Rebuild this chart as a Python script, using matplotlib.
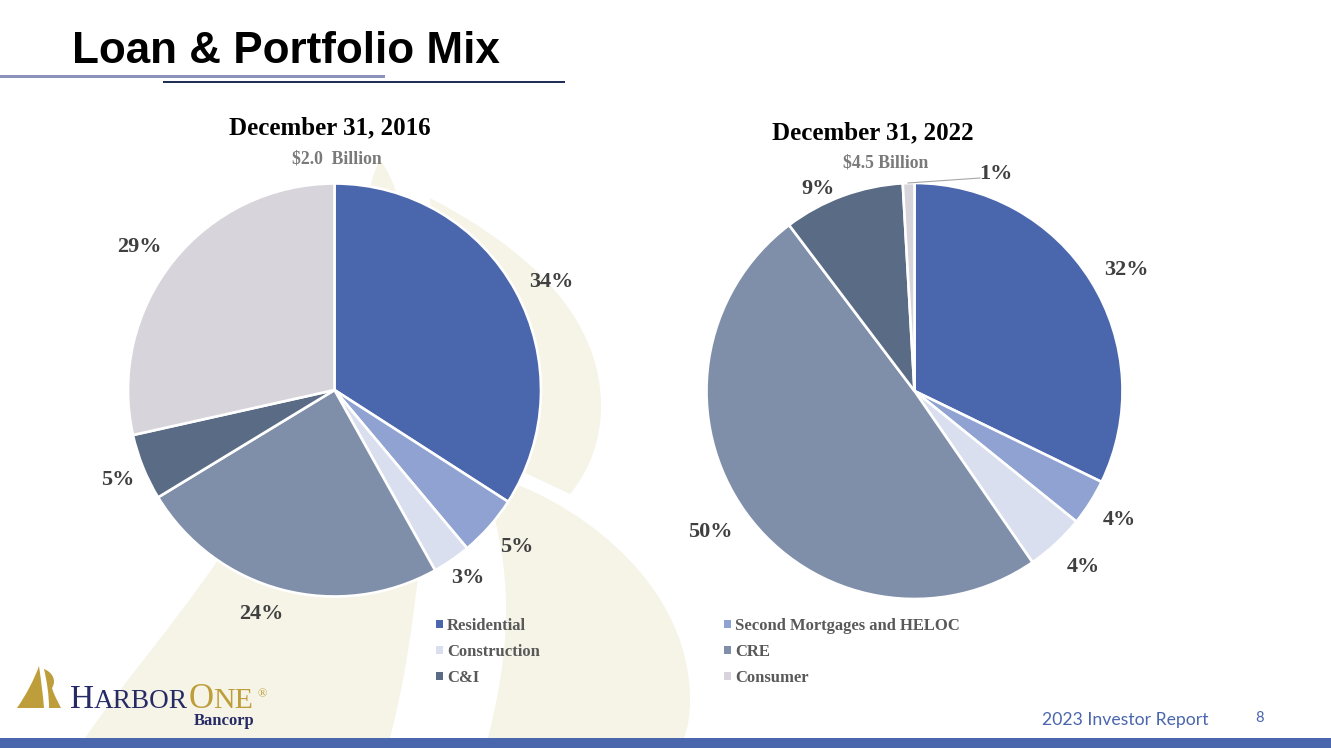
import matplotlib
matplotlib.use('Agg')
import matplotlib.pyplot as plt
from matplotlib.patches import PathPatch, Rectangle
from matplotlib.path import Path

W, H = 1331, 748

# data
categories = ['Residential', 'Second Mortgages and HELOC', 'Construction', 'CRE', 'C&I', 'Consumer']
mix_2016 = [34.1, 4.8, 3.0, 24.4, 5.2, 28.5]
mix_2022 = [32.2, 3.6, 4.6, 49.3, 9.4, 0.9]
labels_2016 = ['34%', '5%', '3%', '24%', '5%', '29%']
labels_2022 = ['32%', '4%', '4%', '50%', '9%', '1%']
colors = ['#4A66AC', '#8FA2D1', '#D9DFEF', '#7F8FA9', '#5A6B86', '#D8D4DC']

# label centres in slide pixels
label_xy_2016 = [(551, 282), (517, 547), (468, 578), (261, 614), (118, 480), (139, 247)]
label_xy_2022 = [(1126, 270), (1119, 520), (1083, 567), (710, 532), (818, 189), (996, 174)]

CREAM = '#F6F3E7'
GOLD = '#BE9E3A'
NAVY = '#262B66'
SERIF = 'Liberation Serif'


def pixel_axes(zorder):
    ax = fig.add_axes([0, 0, 1, 1], zorder=zorder)
    ax.set_xlim(0, W)
    ax.set_ylim(H, 0)
    ax.axis('off')
    ax.patch.set_alpha(0)
    return ax


def shape(ax, start, curves, color):
    # curves are cubic segments: (ctrl1, ctrl2, end)
    verts = [start]
    codes = [Path.MOVETO]
    for seg in curves:
        verts.extend(seg)
        codes.extend([Path.CURVE4] * 3)
    verts.append(start)
    codes.append(Path.CLOSEPOLY)
    ax.add_patch(PathPatch(Path(verts, codes), facecolor=color, edgecolor='none'))


def draw_pie(values, cx, cy, r):
    ax = fig.add_axes([(cx - r) / W, 1 - (cy + r) / H, 2 * r / W, 2 * r / H], zorder=2)
    wedges, _ = ax.pie(values, colors=colors, startangle=90, counterclock=False,
                       wedgeprops={'edgecolor': 'white', 'linewidth': 1.9})
    ax.set_xlim(-1, 1)
    ax.set_ylim(-1, 1)
    ax.patch.set_alpha(0)
    return wedges


fig = plt.figure(figsize=(W / 100, H / 100), dpi=100, facecolor='white')
bg = pixel_axes(0)
top = pixel_axes(3)

# watermark behind the pies
shape(bg, (380, 160), [((372, 175), (368, 190), (365, 230)),
                       ((385, 230), (395, 230), (405, 230)),
                       ((400, 200), (392, 175), (380, 160))], CREAM)
shape(bg, (430, 198), [((500, 235), (600, 300), (601, 405)),
                       ((601, 440), (590, 470), (570, 494)),
                       ((540, 480), (500, 460), (450, 440)),
                       ((440, 350), (435, 270), (430, 198))], CREAM)
shape(bg, (505, 480), [((590, 510), (690, 590), (690, 700)),
                       ((690, 715), (688, 728), (684, 738)),
                       ((620, 738), (550, 738), (488, 738)),
                       ((505, 670), (515, 600), (495, 520))], CREAM)
shape(bg, (218, 560), [((170, 630), (125, 680), (85, 738)),
                       ((185, 738), (290, 738), (390, 738)),
                       ((405, 680), (412, 630), (420, 560))], CREAM)

# title and rules
top.text(72, 51, 'Loan & Portfolio Mix', family='Liberation Sans', weight='bold',
         fontsize=31.7, color='black', ha='left', va='center')
bg.add_patch(Rectangle((0, 74.5), 385, 3, facecolor='#8C92BC', edgecolor='none'))
bg.add_patch(Rectangle((163, 81), 402, 1.6, facecolor='#1F2F55', edgecolor='none'))

# pies
wedges = draw_pie(mix_2016, 334.5, 390, 206.5)
draw_pie(mix_2022, 914.5, 391, 208)

for label, (x, y) in zip(labels_2016 + labels_2022, label_xy_2016 + label_xy_2022):
    top.text(x, y, label, family=SERIF, weight='bold', fontsize=16, color='#404040',
             ha='center', va='center')
top.plot([908, 980], [183, 178], color='#A6A6A6', lw=0.8)

top.text(329.5, 128, 'December 31, 2016', family=SERIF, weight='bold', fontsize=18,
         color='black', ha='center', va='center')
top.text(873, 133, 'December 31, 2022', family=SERIF, weight='bold', fontsize=18,
         color='black', ha='center', va='center')
top.text(336.5, 159, '$2.0  Billion', family=SERIF, weight='bold', fontsize=12.7,
         color='#7A7A7A', ha='center', va='center')
top.text(886, 163, '$4.5 Billion', family=SERIF, weight='bold', fontsize=12.7,
         color='#7A7A7A', ha='center', va='center')

# legend fills by column, so reorder to read like the slide
order = [0, 2, 4, 1, 3, 5]
leg = fig.legend([wedges[i] for i in order], [categories[i] for i in order],
                 ncol=2, loc='upper left', bbox_to_anchor=(436 / W, 1 - 618 / H),
                 frameon=False, handlelength=0.4, handleheight=0.4, handletextpad=0.27,
                 columnspacing=11.04, labelspacing=0.6, borderpad=0, borderaxespad=0,
                 prop={'family': SERIF, 'weight': 'bold', 'size': 12})
for t in leg.get_texts():
    t.set_color('#595959')
for h in leg.legend_handles:
    h.set_edgecolor('none')
leg.set_zorder(4)

# footer
bg.add_patch(Rectangle((0, 738), W, 10, facecolor='#4A66AC', edgecolor='none'))
top.text(1208, 720, '2023 Investor Report', family='Lato', fontsize=12.7,
         color='#4A66AC', ha='right', va='center')
top.text(1259, 718, '8', family='Lato', fontsize=10.5, color='#4A66AC',
         ha='center', va='center')

# logo
shape(top, (17, 708), [((26, 695), (34, 680), (39, 666)),
                       ((41, 680), (43, 695), (44, 708)),
                       ((35, 708), (26, 708), (17, 708))], GOLD)
shape(top, (44, 669), [((52, 672), (57, 680), (52, 688)),
                       ((54, 695), (58, 702), (61, 708)),
                       ((57, 708), (53, 708), (49, 708)),
                       ((49, 695), (47, 682), (44, 669))], GOLD)
logo_parts = [(70, 'H', 24, NAVY), (94, 'ARBOR', 19.6, NAVY), (189, 'O', 25, GOLD), (213, 'NE', 21.5, GOLD)]
for x, s, size, col in logo_parts:
    top.text(x, 708, s, family=SERIF, fontsize=size, color=col, ha='left', va='baseline')
top.text(257, 697, '®', family=SERIF, fontsize=9, color=GOLD, ha='left', va='baseline')
top.text(254, 725, 'Bancorp', family=SERIF, weight='bold', fontsize=12, color=NAVY,
         ha='right', va='baseline')

fig.savefig('out.png', dpi=100)
